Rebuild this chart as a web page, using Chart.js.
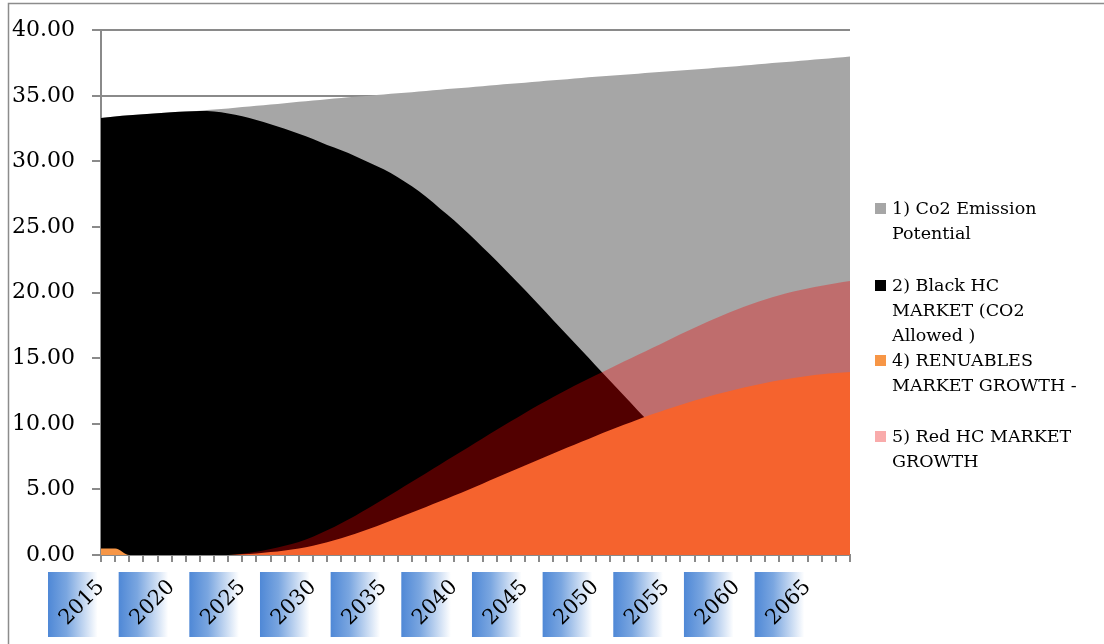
<!DOCTYPE html>
<html>
<head>
<meta charset="utf-8">
<script src="https://cdn.jsdelivr.net/npm/chart.js@4/dist/chart.umd.min.js"></script>
<style>
  body { margin: 0; background: #fff; }
  #wrap { position: relative; width: 1104px; height: 644px; overflow: hidden; }
  #legend { position: absolute; left: 0; top: 0; font-family: "DejaVu Serif", serif; font-size: 17.5px; color: #000; }
  .item { position: absolute; left: 875px; white-space: nowrap; line-height: 25px; }
  .sw { position: absolute; left: 0; top: 7px; width: 11px; height: 11px; }
  .txt { position: absolute; left: 17px; top: 0; }
</style>
</head>
<body>
<div id="wrap">
  <canvas id="chart" width="1104" height="644"></canvas>
  <div id="legend"></div>
</div>
<script>
const years = ["2015","2016","2017","2018","2019","2020","2021","2022","2023","2024",
  "2025","2026","2027","2028","2029","2030","2031","2032","2033","2034",
  "2035","2036","2037","2038","2039","2040","2041","2042","2043","2044",
  "2045","2046","2047","2048","2049","2050","2051","2052","2053","2054",
  "2055","2056","2057","2058","2059","2060","2061","2062","2063","2064",
  "2065","2066","2067","2068"];

const co2Potential = [33.30,33.42,33.52,33.60,33.67,33.74,33.80,33.87,33.95,34.04,
  34.14,34.24,34.34,34.44,34.54,34.64,34.74,34.83,34.92,35.01,
  35.10,35.19,35.28,35.37,35.46,35.55,35.64,35.73,35.82,35.91,
  36.00,36.09,36.18,36.27,36.36,36.45,36.53,36.61,36.69,36.77,
  36.85,36.93,37.01,37.09,37.17,37.26,37.35,37.44,37.53,37.62,
  37.71,37.80,37.90,38.00];

const blackHC = [33.30,33.42,33.52,33.60,33.67,33.74,33.80,33.84,33.80,33.66,
  33.44,33.16,32.84,32.48,32.10,31.70,31.25,30.85,30.40,29.90,
  29.40,28.80,28.10,27.30,26.40,25.50,24.50,23.45,22.40,21.30,
  20.20,19.05,17.90,16.75,15.60,14.45,13.30,12.15,11.00,9.90,
  8.85,7.90,7.00,6.20,5.50,4.90,4.40,4.00,3.65,3.35,
  3.10,2.90,2.75,2.60];

const renewables = [0.50,0.50,0.00,0.00,0.00,0.00,0.00,0.00,0.00,0.00,
  0.05,0.12,0.22,0.35,0.50,0.70,0.97,1.28,1.62,2.00,
  2.40,2.82,3.24,3.66,4.09,4.53,4.98,5.44,5.90,6.36,
  6.82,7.28,7.74,8.19,8.63,9.07,9.50,9.92,10.33,10.72,
  11.09,11.44,11.77,12.08,12.37,12.64,12.89,13.11,13.31,13.49,
  13.64,13.77,13.87,13.95];

const redHC = [0,0,0,0,0,0,0,0,0,0,
  0.10,0.25,0.45,0.70,1.00,1.40,1.88,2.42,3.00,3.62,
  4.26,4.92,5.58,6.24,6.90,7.56,8.22,8.88,9.54,10.19,
  10.83,11.45,12.05,12.62,13.17,13.70,14.22,14.74,15.26,15.78,
  16.30,16.82,17.33,17.82,18.28,18.72,19.12,19.48,19.80,20.08,
  20.32,20.53,20.72,20.88];

const seriesNames = ["1) Co2 Emission\nPotential", "2) Black HC\nMARKET (CO2\nAllowed )",
  "4) RENUABLES\nMARKET GROWTH -", "5) Red HC MARKET\nGROWTH"];
const seriesColors = ["#a6a6a6", "#000000", "#f79646", "rgba(240,0,0,0.34)"];
const legendTops = [196, 273, 348, 424];

const axisGrey = "#8a8a8a";

// frame, gradient boxes and rotated year labels under the x axis
const decor = {
  id: "decor",
  beforeDraw(chart) {
    const ctx = chart.ctx;
    const xs = chart.scales.x;
    ctx.save();
    ctx.strokeStyle = "#8c8c8c";
    ctx.lineWidth = 1.5;
    ctx.beginPath();
    ctx.moveTo(8.5, 644);
    ctx.lineTo(8.5, 3.5);
    ctx.lineTo(1104, 3.5);
    ctx.stroke();
    years.forEach((y, i) => {
      if (i % 5 !== 0) return;
      const px = xs.getPixelForTick(i);
      const left = px - 53, top = 572, w = 62, h = 65;
      const g = ctx.createLinearGradient(left, 0, left + w, 0);
      g.addColorStop(0, "#4f88d6");
      g.addColorStop(0.3, "#7aa6e0");
      g.addColorStop(0.8, "#ffffff");
      g.addColorStop(1, "#ffffff");
      ctx.fillStyle = g;
      ctx.fillRect(left, top, w, h);

      ctx.save();
      ctx.translate(px, 584);
      ctx.rotate(-Math.PI / 4);
      ctx.fillStyle = "#000";
      ctx.font = "21px 'DejaVu Serif'";
      ctx.textAlign = "right";
      ctx.textBaseline = "middle";
      ctx.fillText(y, 0, 0);
      ctx.restore();
    });
    ctx.restore();
  }
};

const ctx = document.getElementById("chart").getContext("2d");
const orders = [4, 3, 2, 1];
new Chart(ctx, {
  type: "line",
  data: {
    labels: years,
    datasets: [co2Potential, blackHC, renewables, redHC].map((d, i) => ({
      label: seriesNames[i],
      data: d,
      backgroundColor: seriesColors[i],
      borderWidth: 0,
      pointRadius: 0,
      fill: "origin",
      cubicInterpolationMode: "monotone",
      order: orders[i]
    }))
  },
  options: {
    responsive: false,
    animation: false,
    layout: { padding: { left: 0, right: 254, top: 25, bottom: 0 } },
    plugins: { legend: { display: false }, tooltip: { enabled: false } },
    scales: {
      x: {
        offset: false,
        afterFit: (s) => { s.height = 89; },
        grid: { drawOnChartArea: false, color: axisGrey, lineWidth: 2, tickLength: 7 },
        border: { color: axisGrey, width: 2 },
        ticks: { autoSkip: false, display: false }
      },
      y: {
        min: 0,
        max: 40,
        afterFit: (s) => { s.width = 101; },
        grid: { color: axisGrey, lineWidth: 2, tickLength: 9 },
        border: { color: axisGrey, width: 2 },
        ticks: {
          stepSize: 5,
          padding: 17,
          color: "#000",
          font: { family: "DejaVu Serif", size: 22 },
          callback: (v) => v.toFixed(2)
        }
      }
    }
  },
  plugins: [decor]
});

// legend with the same wrapping as the original
const legend = document.getElementById("legend");
seriesNames.forEach((name, i) => {
  const item = document.createElement("div");
  item.className = "item";
  item.style.top = legendTops[i] + "px";
  const sw = document.createElement("div");
  sw.className = "sw";
  sw.style.background = i === 3 ? "#f9abab" : seriesColors[i];
  const txt = document.createElement("div");
  txt.className = "txt";
  txt.innerHTML = name.split("\n").join("<br>");
  item.appendChild(sw);
  item.appendChild(txt);
  legend.appendChild(item);
});
</script>
</body>
</html>
